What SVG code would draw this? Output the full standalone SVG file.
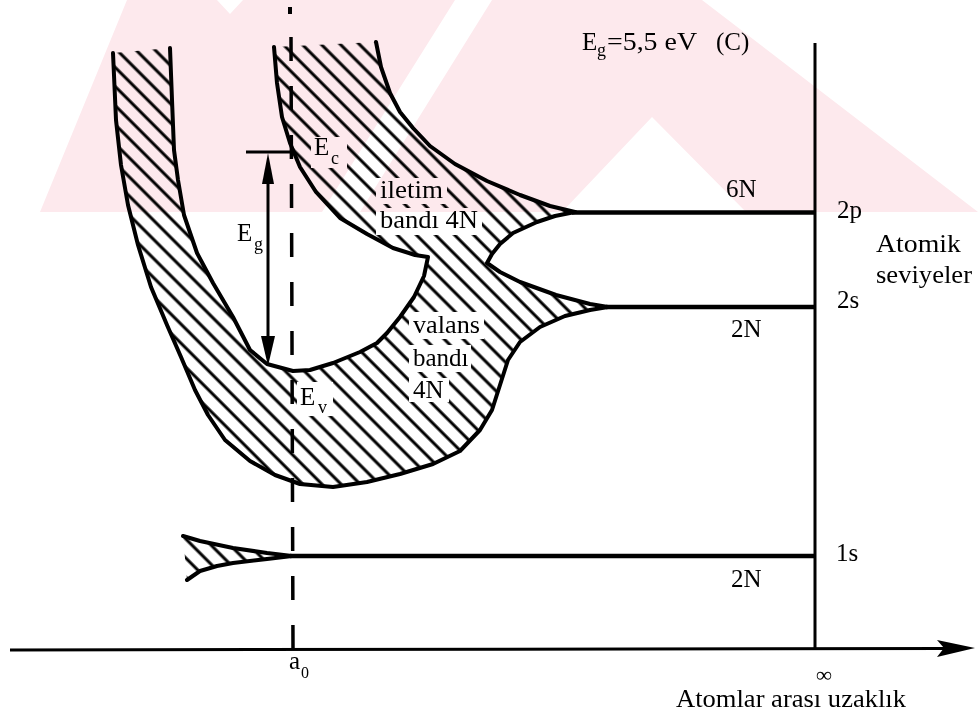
<svg xmlns="http://www.w3.org/2000/svg" width="978" height="722" viewBox="0 0 978 722">
<defs>
<pattern id="hatch" patternUnits="userSpaceOnUse" width="13.5" height="10" patternTransform="rotate(-45)">
<rect x="5.3" y="-1" width="3" height="12" fill="#000"/>
</pattern>
<style>
.t{font-family:"Liberation Serif","Times New Roman",serif;fill:#000;font-size:25px}
.s{font-size:18px}
.ln{fill:none;stroke:#000;stroke-width:4;stroke-linejoin:round;stroke-linecap:round}
.lv{fill:none;stroke:#000;stroke-width:4.5;stroke-linecap:butt}
.ax{fill:none;stroke:#000;stroke-width:3}
.bg{fill:#fff}
</style>
</defs>
<rect width="978" height="722" fill="#fff"/>

<g id="bands">
<path fill="url(#hatch)" d="M113,53 L116,120 L121,165 L128,205 L138,245 L151,287 L167,325 L181,357 L195,390 L208,415 L225,440 L250,461 L275,475 L300,484 L333,487 L367,482 L400,474 L433,464 L460,451 L480,430 L492,410 L500,385 L508,360 L520,342 L540,327 L565,316 L590,310 L608,307 L590,304 L556,295 L520,282 L500,272 L487,263 L492,254 L500,244 L513,233 L537,222 L555,216 L572,213 L550,206 L520,195 L487,181 L455,164 L430,146 L413,128 L400,112 L390,93 L381,67 L376,42 L274,47 L277,83 L282,117 L290,143 L300,167 L316,192 L340,218 L367,234 L393,248 L415,255 L428,257 L424,276 L414,297 L400,317 L387,333 L377,343 L360,352 L333,363 L310,370 L293,371 L267,364 L250,350 L233,317 L213,283 L197,253 L184,215 L178,180 L174,150 L172,100 L170,48 Z"/>
<path fill="url(#hatch)" d="M183,536 L200,541 L233,548 L267,553 L292,556 L267,559 L233,563 L217,566 L200,571 L187,580 Z"/>
<rect class="bg" x="311" y="137" width="36" height="31"/>
<rect class="bg" x="376" y="178" width="71" height="26"/>
<rect class="bg" x="376" y="208" width="106" height="27"/>
<rect class="bg" x="409" y="312" width="75" height="27"/>
<rect class="bg" x="409" y="345" width="62" height="27"/>
<rect class="bg" x="409" y="378" width="40" height="24"/>
<rect class="bg" x="297" y="382" width="36" height="34"/>
<path class="ln" d="M113,53 L116,120 L121,165 L128,205 L138,245 L151,287 L167,325 L181,357 L195,390 L208,415 L225,440 L250,461 L275,475 L300,484 L333,487 L367,482 L400,474 L433,464 L460,451 L480,430 L492,410 L500,385 L508,360 L520,342 L540,327 L565,316 L590,310 L608,307"/>
<path class="ln" d="M608,307 L590,304 L556,295 L520,282 L500,272 L487,263 L492,254 L500,244 L513,233 L537,222 L555,216 L575,212"/>
<path class="ln" d="M575,212 L550,206 L520,195 L487,181 L455,164 L430,146 L413,128 L400,112 L390,93 L381,67 L376,42"/>
<path class="ln" d="M274,47 L277,83 L282,117 L290,143 L300,167 L316,192 L340,218 L367,234 L393,248 L415,255 L428,257 L424,276 L414,297 L400,317 L387,333 L377,343 L360,352 L333,363 L310,370 L293,371 L267,364 L250,350 L233,317 L213,283 L197,253 L184,215 L178,180 L174,150 L172,100 L170,48"/>
<path class="ln" stroke-width="3" d="M183,536 L200,541 L233,548 L267,553 L292,556"/>
<path class="ln" stroke-width="3" d="M187,580 L200,571 L217,566 L233,563 L267,559 L292,556"/>
</g>

<g id="levels">
<line class="lv" x1="572" y1="212.5" x2="815" y2="212.5" stroke-width="5"/>
<line class="lv" x1="606" y1="307" x2="815" y2="307"/>
<line class="lv" x1="290" y1="556" x2="815" y2="556"/>
</g>

<g id="axes">
<line class="ax" x1="10" y1="650" x2="945" y2="648.5"/>
<polygon points="975,648 937,640 944,648 937,657" fill="#000"/>
<line class="ax" x1="815" y1="43" x2="815" y2="650"/>
<line x1="290" y1="7" x2="290" y2="14" stroke="#000" stroke-width="4"/>
<line x1="291" y1="37" x2="293" y2="650" stroke="#000" stroke-width="3.5" stroke-dasharray="24 25"/>
</g>

<g id="gap-arrow">
<line class="ax" x1="246" y1="152" x2="293" y2="152"/>
<line class="ax" x1="268" y1="178" x2="268" y2="340"/>
<polygon points="268,153 262,184 274,184" fill="#000"/>
<polygon points="268,366 261,336 275,336" fill="#000"/>
</g>

<g id="labels">
<text class="t" x="582" y="50">E</text><text class="t s" x="597" y="56">g</text>
<text class="t" x="607" y="50" textLength="90" lengthAdjust="spacingAndGlyphs">=5,5 eV</text>
<text class="t" x="716" y="50">(C)</text>
<text class="t" x="314" y="155">E</text><text class="t s" x="331" y="164">c</text>
<text class="t" x="380" y="198" textLength="63" lengthAdjust="spacingAndGlyphs">iletim</text>
<text class="t" x="380" y="228" textLength="98" lengthAdjust="spacingAndGlyphs">bandı 4N</text>
<text class="t" x="237" y="241">E</text><text class="t s" x="254" y="250">g</text>
<text class="t" x="413" y="333" textLength="67" lengthAdjust="spacingAndGlyphs">valans</text>
<text class="t" x="413" y="366">bandı</text>
<text class="t" x="413" y="398">4N</text>
<text class="t" x="300" y="405">E</text><text class="t s" x="318" y="413">v</text>
<text class="t" x="726" y="197">6N</text>
<text class="t" x="837" y="218">2p</text>
<text class="t" x="876" y="252" font-size="27" textLength="85" lengthAdjust="spacingAndGlyphs">Atomik</text>
<text class="t" x="876" y="283" font-size="27" textLength="96" lengthAdjust="spacingAndGlyphs">seviyeler</text>
<text class="t" x="837" y="308">2s</text>
<text class="t" x="731" y="337">2N</text>
<text class="t" x="836" y="561">1s</text>
<text class="t" x="731" y="587">2N</text>
<text class="t" x="289" y="669">a</text><text class="t" x="301" y="678" style="font-size:16px">0</text>
<text class="t" x="816" y="682" font-weight="bold" style="font-size:22px">∞</text>
<text class="t" x="676" y="707" font-size="26" textLength="230" lengthAdjust="spacingAndGlyphs">Atomlar arası uzaklık</text>
</g>

<g id="watermark" style="mix-blend-mode:multiply" fill="#fde9ed">
<polygon points="40,212 127,0 217,0 230,14 243,0 455,0 322,212"/>
<polygon points="492,0 702,0 978,212 746,212 652,117 562,212 360,212"/>
</g>
</svg>
